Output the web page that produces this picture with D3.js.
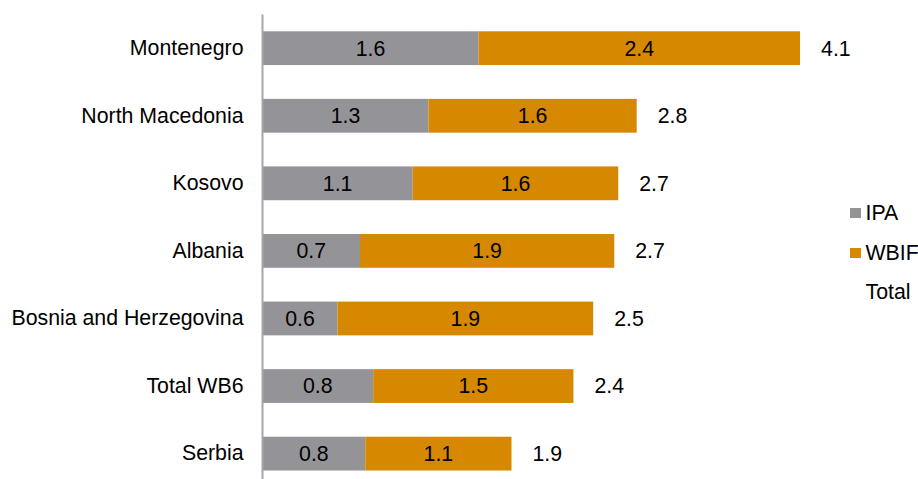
<!DOCTYPE html>
<html>
<head>
<meta charset="utf-8">
<script src="https://cdn.jsdelivr.net/npm/d3@7"></script>
<style>
  html, body { margin: 0; padding: 0; background: #ffffff; }
  svg { display: block; }
  text { font-family: "Liberation Sans", Arial, sans-serif; fill: #000000; }
</style>
</head>
<body>
<svg id="chart" width="918" height="479"></svg>
<script>
// Regions, top to bottom
const categories = ["Montenegro", "North Macedonia", "Kosovo", "Albania",
                    "Bosnia and Herzegovina", "Total WB6", "Serbia"];
// Funding components per region
const ipaValues  = [1.64, 1.26, 1.14, 0.74, 0.57, 0.84, 0.78];
const wbifValues = [2.44, 1.58, 1.56, 1.93, 1.94, 1.52, 1.11];
const seriesNames = ["IPA", "WBIF", "Total"];
const seriesColors = ["#949398", "#d58800", "none"];

const rows = categories.map((c, i) => ({
  category: c,
  IPA: ipaValues[i],
  WBIF: wbifValues[i]
}));
const totals = rows.map(r => r.IPA + r.WBIF);

const svg = d3.select("#chart");
const fontSize = 21.3;
const fmt = d3.format(".1f");

const x = d3.scaleLinear().domain([0, 5]).range([262.5, 921.25]);
const y = d3.scaleBand().domain(categories).range([14.4, 487.4])
  .paddingInner(0.5).paddingOuter(0.25);

const stack = d3.stack().keys(["IPA", "WBIF"]);
const stacked = stack(rows);
const color = d3.scaleOrdinal().domain(seriesNames).range(seriesColors);

// Stacked bars
const layers = svg.append("g").selectAll("g").data(stacked).join("g")
  .attr("fill", d => color(d.key));
layers.selectAll("rect").data(d => d).join("rect")
  .attr("x", d => x(d[0]))
  .attr("y", d => y(d.data.category))
  .attr("width", d => x(d[1]) - x(d[0]))
  .attr("height", y.bandwidth());

// Segment labels
const segLabels = svg.append("g");
stacked.forEach(layer => {
  segLabels.selectAll(null).data(layer).join("text")
    .attr("x", d => (x(d[0]) + x(d[1])) / 2)
    .attr("y", d => y(d.data.category) + y.bandwidth() / 2)
    .attr("dy", "0.35em")
    .attr("text-anchor", "middle")
    .style("font-size", fontSize + "px")
    .text(d => fmt(d.data[layer.key]));
});

// Total labels after each bar
svg.append("g").selectAll("text").data(rows).join("text")
  .attr("x", (d, i) => x(totals[i]) + 21)
  .attr("y", d => y(d.category) + y.bandwidth() / 2)
  .attr("dy", "0.35em")
  .attr("text-anchor", "start")
  .style("font-size", fontSize + "px")
  .text((d, i) => fmt(totals[i]));

// Category axis
const yAxis = svg.append("g")
  .attr("transform", `translate(${x(0)},0)`)
  .call(d3.axisLeft(y).tickSize(0).tickPadding(19));
yAxis.select(".domain").attr("stroke", "#a6a6a6").attr("stroke-width", 2)
  .attr("d", `M0,14.4V479`);
yAxis.selectAll("text")
  .style("font-size", fontSize + "px")
  .style("font-family", "'Liberation Sans', Arial, sans-serif")
  .attr("fill", "#000000");

// Legend
const legend = svg.append("g").attr("transform", "translate(850,0)");
const legendY = [213, 253, 292];
seriesNames.forEach((name, i) => {
  const g = legend.append("g").attr("transform", `translate(0,${legendY[i]})`);
  if (color(name) !== "none") {
    g.append("rect").attr("x", 0).attr("y", -5).attr("width", 11).attr("height", 10)
      .attr("fill", color(name));
  }
  g.append("text").attr("x", 15.5).attr("y", 0).attr("dy", "0.35em")
    .style("font-size", fontSize + "px").text(name);
});
</script>
</body>
</html>
